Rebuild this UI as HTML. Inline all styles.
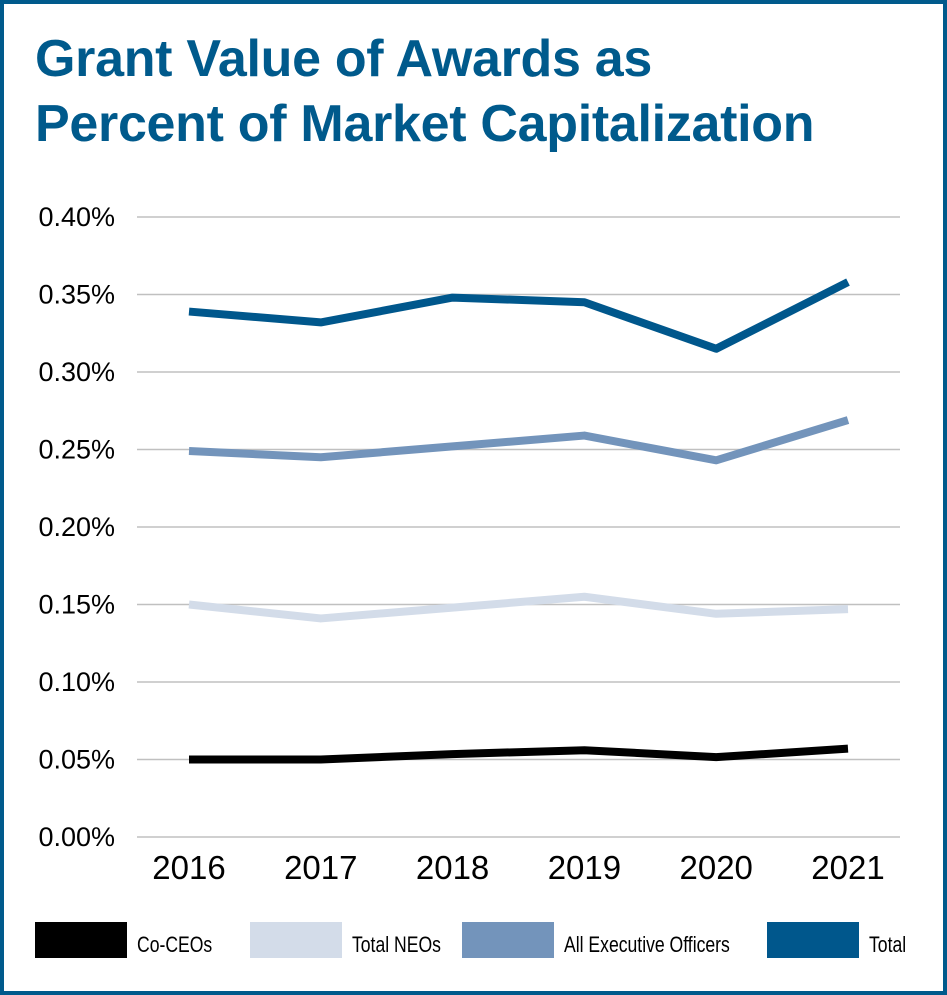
<!DOCTYPE html>
<html><head><meta charset="utf-8"><style>
html,body{margin:0;padding:0;background:#fff}
#frame{position:absolute;left:0;top:0;width:939px;height:987px;border:4px solid #005a8c;background:#fff}
#title{position:absolute;left:35px;top:27px;font:bold 52px/65px "Liberation Sans",sans-serif;color:#005a8c;margin:0;letter-spacing:-0.3px}
svg{position:absolute;left:0;top:0}
</style></head><body>
<div id="frame"></div>
<h1 id="title">Grant Value of Awards as<br>Percent of Market Capitalization</h1>
<svg id="chart" width="947" height="995"></svg>
<script>
const categories=["2016","2017","2018","2019","2020","2021"];
const yTicks=[0,0.05,0.10,0.15,0.20,0.25,0.30,0.35,0.40];
const coCeos=[0.050,0.050,0.0535,0.056,0.0515,0.057];
const totalNeos=[0.150,0.141,0.148,0.155,0.144,0.147];
const allExec=[0.249,0.245,0.252,0.259,0.243,0.269];
const total=[0.339,0.332,0.348,0.345,0.315,0.358];
const seriesNames=["Co-CEOs","Total NEOs","All Executive Officers","Total"];
const NS="http://www.w3.org/2000/svg";
const svg=document.getElementById('chart');
const x=i=>189+i*131.8;
const y=v=>837-v*1550;
function mk(t,a){const e=document.createElementNS(NS,t);for(const k in a)e.setAttribute(k,a[k]);svg.appendChild(e);return e;}
yTicks.forEach(v=>{
  const g=mk('line',{x1:137,x2:900,y1:y(v),y2:y(v),stroke:'#c0c0c0','stroke-width':1.5});
  
  
  const t=mk('text',{x:115,y:y(v)+9,'text-anchor':'end','font-family':'Liberation Sans, sans-serif','font-size':27,fill:'#000'});
  t.textContent=v.toFixed(2)+'%';
  
  
});
categories.forEach((c,i)=>{
  const t=mk('text',{x:x(i),y:879,'text-anchor':'middle','font-family':'Liberation Sans, sans-serif','font-size':33,fill:'#000'});
  t.textContent=c;
  
  
});
const colors=['#000000','#d3dce9','#7394bb','#00578c'];
[coCeos,totalNeos,allExec,total].forEach((s,k)=>{
  const p=mk('polyline',{points:s.map((v,i)=>x(i)+','+y(v)).join(' '),fill:'none',stroke:colors[k],'stroke-width':8,'stroke-linejoin':'round'});
  
  
});
const lx=[35,250,462,767];
seriesNames.forEach((n,k)=>{
  const r=mk('rect',{x:lx[k],y:922,width:92,height:36,fill:colors[k]});
  
  
  const tx=lx[k]+102;
  const t=mk('text',{x:tx,y:952,'font-family':'Liberation Sans, sans-serif','font-size':22,fill:'#000',transform:'translate('+tx+',0) scale(0.8,1) translate('+(-tx)+',0)'});
  t.textContent=n;
  
  
});
</script>
</body></html>
